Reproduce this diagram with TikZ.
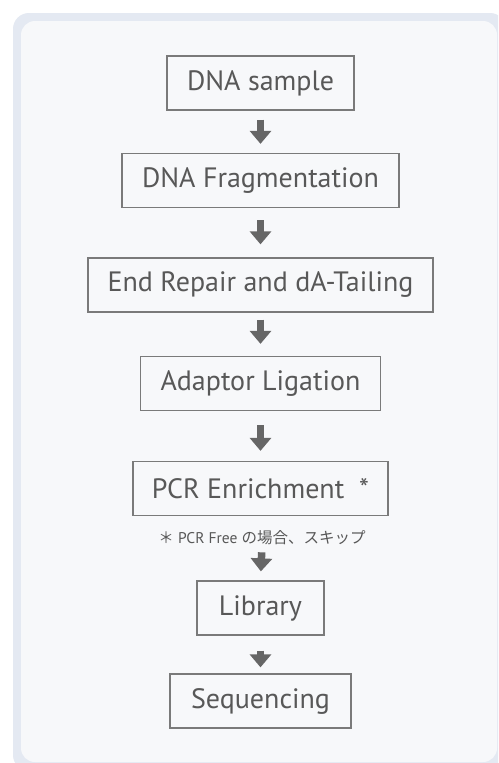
\documentclass[tikz,border=0pt]{standalone}
\usepackage{fontspec}
\setmainfont{PT Sans}
\newfontfamily\jp{Noto Sans CJK JP}
\usetikzlibrary{arrows.meta}
\definecolor{panelborder}{HTML}{E4E9F2}
\definecolor{panelfill}{HTML}{F7F8FA}
\definecolor{boxline}{HTML}{7A7A7A}
\definecolor{txt}{HTML}{585858}
\definecolor{arrowcol}{HTML}{666666}
\tikzset{
  stepbox/.style={draw=boxline, line width=1.3pt, fill=panelfill, text=txt,
    minimum height=54pt, inner sep=0pt, font=\fontsize{28}{30}\selectfont},
  flowarrow/.style={draw=arrowcol, line width=7.5pt,
    -{Triangle[width=21pt,length=13pt]}},
  notetext/.style={text=txt, inner sep=0pt, font=\fontsize{15.5}{17}\selectfont}
}
\begin{document}
\begin{tikzpicture}[x=1pt,y=-1pt]
  \useasboundingbox (0,0) rectangle (498,763);
  \begin{scope}
    \clip (0,0) rectangle (498,763);
    \fill[white] (0,0) rectangle (498,763);
    \fill[panelborder, rounded corners=16pt] (13,13) rectangle (506,771);
    \fill[panelfill, rounded corners=14pt] (21,21) rectangle (497,762);
  \end{scope}
  \node[stepbox, minimum width=187pt] (b1) at (260.5,83) {DNA sample};
  \node[stepbox, minimum width=277pt] (b2) at (260.5,180.5) {DNA Fragmentation};
  \node[stepbox, minimum width=345pt] (b3) at (260.5,285) {End Repair and dA-Tailing};
  \node[stepbox, minimum width=240pt] (b4) at (260.5,383.5) {Adaptor Ligation};
  \node[stepbox, minimum width=255pt] (b5) at (260.5,488.5) {PCR Enrichment\ \ *};
  \node[notetext] (note) at (262,538) {{\jp ＊} PCR Free {\jp の場合、スキップ}};
  \node[stepbox, minimum width=127pt] (b6) at (260.5,608) {Library};
  \node[stepbox, minimum width=181pt] (b7) at (260.5,701) {Sequencing};
  \draw[flowarrow, shorten <=9pt, shorten >=9pt] (b1.south) -- (b2.north);
  \draw[flowarrow, shorten <=12pt, shorten >=13pt] (b2.south) -- (b3.north);
  \draw[flowarrow, shorten <=7pt, shorten >=12pt] (b3.south) -- (b4.north);
  \draw[flowarrow, shorten <=14pt, shorten >=10pt] (b4.south) -- (b5.north);
  \draw[flowarrow, shorten <=7pt, shorten >=9pt] (note.south) -- (b6.north);
  \draw[flowarrow, shorten <=15pt, shorten >=6pt] (b6.south) -- (b7.north);
\end{tikzpicture}
\end{document}
